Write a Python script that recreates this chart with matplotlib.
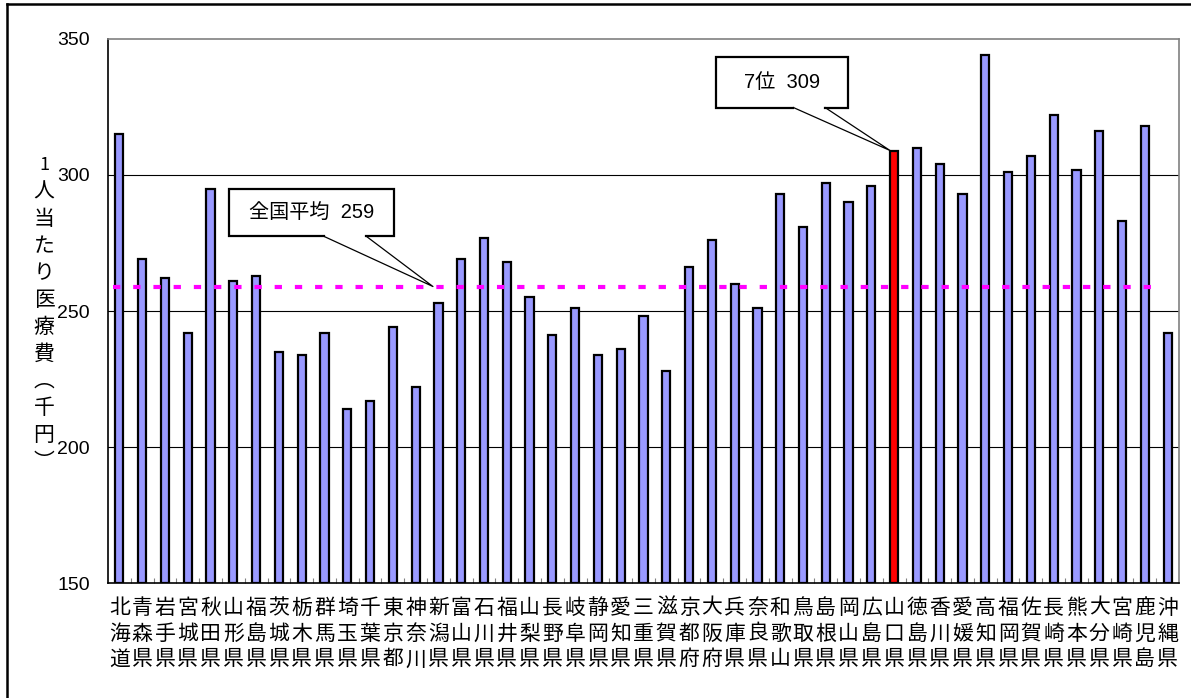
import matplotlib
matplotlib.use("Agg")
import matplotlib.pyplot as plt
from matplotlib.patches import Polygon
from matplotlib.lines import Line2D
from matplotlib.ticker import FixedLocator

plt.rcParams['font.family'] = ['Liberation Sans', 'Noto Sans CJK JP', 'DejaVu Sans']

prefectures = [
    "北海道", "青森県", "岩手県", "宮城県", "秋田県", "山形県", "福島県",
    "茨城県", "栃木県", "群馬県", "埼玉県", "千葉県", "東京都", "神奈川",
    "新潟県", "富山県", "石川県", "福井県", "山梨県", "長野県", "岐阜県",
    "静岡県", "愛知県", "三重県", "滋賀県", "京都府", "大阪府", "兵庫県",
    "奈良県", "和歌山", "鳥取県", "島根県", "岡山県", "広島県", "山口県",
    "徳島県", "香川県", "愛媛県", "高知県", "福岡県", "佐賀県", "長崎県",
    "熊本県", "大分県", "宮崎県", "鹿児島", "沖縄県",
]
cost = [
    315, 269, 262, 242, 295, 261, 263,
    235, 234, 242, 214, 217, 244, 222,
    253, 269, 277, 268, 255, 241, 251,
    234, 236, 248, 228, 266, 276, 260,
    251, 293, 281, 297, 290, 296, 309,
    310, 304, 293, 344, 301, 307, 322,
    302, 316, 283, 318, 242,
]
national_avg = 259
highlight = "山口県"
highlight_rank = 7
y_ticks = [150, 200, 250, 300, 350]
y_title = ["1", "人", "当", "た", "り", "医", "療", "費", "︵", "千", "円", "︶"]

W, H = 1191, 698
fig = plt.figure(figsize=(W / 100, H / 100), dpi=100)
ax = fig.add_axes([108 / W, 1 - 583 / H, (1179 - 108) / W, (583 - 39) / H])

x = list(range(len(prefectures)))
colors = ["#FF0000" if p == highlight else "#9999FF" for p in prefectures]
ax.bar(x, [c - y_ticks[0] for c in cost], bottom=y_ticks[0], width=0.36,
       color=colors, edgecolor="black", linewidth=1.6, zorder=3)

ax.set_xlim(-0.5, len(prefectures) - 0.5)
ax.set_ylim(y_ticks[0], y_ticks[-1])
ax.set_yticks(y_ticks)
ax.tick_params(axis="y", length=0, pad=13, labelsize=14)
ax.set_xticks(x)
ax.set_xticklabels(["\n".join(p) for p in prefectures], fontsize=15,
                   family=['Noto Sans CJK JP'], linespacing=1.22)
ax.tick_params(axis="x", length=0, pad=10)
ax.xaxis.set_minor_locator(FixedLocator([i + 0.5 for i in x[:-1]]))
ax.tick_params(axis="x", which="minor", direction="in", length=3.6,
               width=0.8, color="#808080")

for v in y_ticks[1:-1]:
    ax.axhline(v, color="black", linewidth=0.8, zorder=1)

for side in ("top", "right"):
    ax.spines[side].set_color("#808080")
    ax.spines[side].set_linewidth(1.2)
for side in ("left", "bottom"):
    ax.spines[side].set_color("black")
    ax.spines[side].set_linewidth(1.2)

# national average line
ax.hlines(national_avg, -0.3, len(prefectures) - 1.35, colors="#FF00FF",
          linewidth=3.0, linestyles=(0, (1.75, 3.1)), zorder=4)


def callout(x0, x1, y0, y1, b0, b1, tip, text):
    verts = [(x0, y0), (x0, y1), (x1, y1), (x1, y0), (b1, y0), tip, (b0, y0)]
    body = Polygon(verts, closed=True, facecolor="white", edgecolor="none", zorder=6)
    ax.add_patch(body)
    edge = Line2D([b0, x0, x0, x1, x1, b1], [y0, y0, y1, y1, y0, y0],
                  color="black", linewidth=1.6, zorder=7, solid_joinstyle="miter")
    ax.add_line(edge)
    tail = Line2D([b0, tip[0], b1], [y0, tip[1], y0], color="black",
                  linewidth=0.9, zorder=7)
    ax.add_line(tail)
    ax.text((x0 + x1) / 2, (y0 + y1) / 2, text, ha="center", va="center",
            fontsize=14.5, zorder=8)


hi = prefectures.index(highlight)
callout(4.8, 12.05, 277.5, 294.7, 8.96, 10.83, (13.76, national_avg),
        f"全国平均  {national_avg}")
callout(26.18, 31.98, 324.8, 343.2, 29.58, 30.97, (hi - 0.18, cost[hi]),
        f"{highlight_rank}位  {cost[hi]}")

# vertical axis title, one character per line
for k, ch in enumerate(y_title):
    fig.text(44 / W, 1 - (165 + 27 * k) / H, ch, ha="center", va="center",
             fontsize=15 if k else 13, family=['Noto Sans CJK JP'])

# chart border
fig.add_artist(Line2D([7 / W, 7 / W], [0, 1 - 4 / H], color="black", linewidth=1.8))
fig.add_artist(Line2D([7 / W, 1], [1 - 4 / H, 1 - 4 / H], color="black", linewidth=1.8))

fig.savefig("out.png", dpi=100)
